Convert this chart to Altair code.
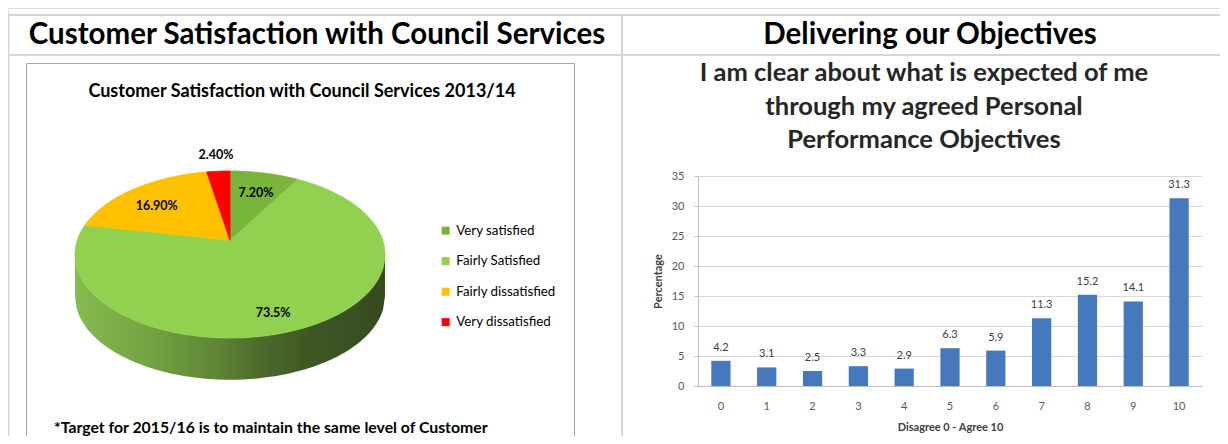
import altair as alt
import numpy as np
import pandas as pd

FONT = "Lato"
W, H = 1212, 428

# ---------------- data ----------------
pie_categories = ["Very satisfied", "Fairly Satisfied", "Fairly dissatisfied", "Very dissatisfied"]
pie_values = [7.2, 73.5, 16.9, 2.4]
pie_labels = ["7.20%", "73.5%", "16.90%", "2.40%"]
pie_colors = ["#79B53A", "#92D050", "#FFC000", "#FF0000"]

bar_categories = ["0", "1", "2", "3", "4", "5", "6", "7", "8", "9", "10"]
bar_values = [4.2, 3.1, 2.5, 3.3, 2.9, 6.3, 5.9, 11.3, 15.2, 14.1, 31.3]
bar_labels = ["4.2", "3.1", "2.5", "3.3", "2.9", "6.3", "5.9", "11.3", "15.2", "14.1", "31.3"]
y_ticks = [0, 5, 10, 15, 20, 25, 30, 35]

header_left = "Customer Satisfaction with Council Services"
header_right = "Delivering our Objectives"
pie_title = "Customer Satisfaction with Council Services 2013/14"
footnote = "*Target for 2015/16 is to maintain the same level of Customer"
bar_title_lines = ["I am clear about what is expected of me",
                   "through my agreed Personal",
                   "Performance Objectives"]
x_title = "Disagree 0 - Agree 10"
y_title = "Percentage"

# ---------------- pie geometry (unit ellipse, scaled by the scales) ----------------
DEPTH = 0.5         # thickness of the 3-D side, in radius units
VERTEX_V = 0.17     # perspective shift of the pie centre
total = sum(pie_values)
poly_rows, label_rows = [], []
cum = 0.0
for cat, val, lab in zip(pie_categories, pie_values, pie_labels):
    a0 = 2 * np.pi * cum / total
    a1 = 2 * np.pi * (cum + val) / total
    ts = np.linspace(a0, a1, max(4, int(val * 1.5) + 2))
    poly_rows.append({"cat": cat, "k": 0, "u": 0.0, "v": VERTEX_V})
    for k, t in enumerate(ts, start=1):
        poly_rows.append({"cat": cat, "k": k, "u": float(np.sin(t)), "v": float(np.cos(t))})
    mid = (a0 + a1) / 2
    f = 1.2 if val < 5 else 0.75
    label_rows.append({"cat": cat, "label": lab,
                       "u": float(f * np.sin(mid)), "v": float(f * np.cos(mid))})
    cum += val
poly_df = pd.DataFrame(poly_rows)
label_df = pd.DataFrame(label_rows)

su = np.linspace(-1, 1, 161)
top = -np.sqrt(np.clip(1 - su ** 2, 0, None))
side_df = pd.DataFrame({"u": su, "top": top, "bottom": top - DEPTH})

pie_x = alt.Scale(domain=[-1, 1], range=[67, 377])
pie_y = alt.Scale(domain=[-1, 1], range=[330, 163])
pie_fill = alt.Scale(domain=pie_categories, range=pie_colors)

side_chart = alt.Chart(side_df).mark_area(
    color=alt.LinearGradient(
        gradient="linear",
        stops=[alt.GradientStop(offset=0, color="#86BB4F"),
               alt.GradientStop(offset=0.25, color="#72A242"),
               alt.GradientStop(offset=0.45, color="#5F8736"),
               alt.GradientStop(offset=0.6, color="#4C6B2B"),
               alt.GradientStop(offset=0.75, color="#3E5825"),
               alt.GradientStop(offset=1, color="#364B20")],
        x1=0, x2=1, y1=0, y2=0),
).encode(
    x=alt.X("u:Q", scale=pie_x, axis=None),
    y=alt.Y("bottom:Q", scale=pie_y, axis=None),
    y2="top:Q",
)

poly_chart = alt.Chart(poly_df).mark_line(interpolate="linear-closed", strokeWidth=0.8).encode(
    x=alt.X("u:Q", scale=pie_x, axis=None),
    y=alt.Y("v:Q", scale=pie_y, axis=None),
    order=alt.Order("k:Q"),
    fill=alt.Fill("cat:N", scale=pie_fill, title=None,
                  legend=alt.Legend(orient="none", legendX=431, legendY=216,
                                    symbolType="square", symbolSize=64,
                                    symbolStrokeWidth=0, rowPadding=16.5,
                                    labelFont=FONT, labelFontSize=13.3,
                                    labelColor="#000000", labelOffset=4)),
    stroke=alt.Stroke("cat:N", scale=pie_fill, legend=None),
)

pie_text = alt.Chart(label_df).mark_text(
    font=FONT, fontSize=12.5, fontWeight="bold", color="#000000"
).encode(
    x=alt.X("u:Q", scale=pie_x, axis=None),
    y=alt.Y("v:Q", scale=pie_y, axis=None),
    text="label:N",
)

pie_layer = alt.layer(side_chart, poly_chart, pie_text)

# ---------------- bar chart ----------------
bar_df = pd.DataFrame({"score": bar_categories, "pct": bar_values, "label": bar_labels})
bx_scale = alt.Scale(domain=bar_categories, range=[690, 1194], paddingInner=0.58, paddingOuter=0.29)
by_scale = alt.Scale(domain=[0, 35], range=[378, 168], nice=False)

x_axis = alt.Axis(orient="bottom", offset=-50, labelAngle=0, ticks=False, tickSize=0,
                  domainColor="#BFBFBF", labelColor="#595959", labelFont=FONT,
                  labelFontSize=11, labelPadding=14, title=x_title, titleFont=FONT,
                  titleFontSize=11, titleFontWeight="bold", titleColor="#404040",
                  titlePadding=10)
y_axis = alt.Axis(orient="left", offset=-690, values=y_ticks, grid=True,
                  gridColor="#D9D9D9", domainColor="#BFBFBF", tickColor="#BFBFBF",
                  tickSize=4, labelColor="#595959", labelFont=FONT, labelFontSize=11,
                  labelPadding=10, title=y_title, titleFont=FONT, titleFontSize=11,
                  titleFontWeight="bold", titleColor="#404040", titlePadding=8)

bars = alt.Chart(bar_df).mark_bar(color="#4678BC").encode(
    x=alt.X("score:N", sort=bar_categories, scale=bx_scale, axis=x_axis),
    y=alt.Y("pct:Q", scale=by_scale, axis=y_axis),
)
bar_text = alt.Chart(bar_df).mark_text(
    font=FONT, fontSize=11, color="#404040", baseline="bottom", dy=-8
).encode(
    x=alt.X("score:N", sort=bar_categories, scale=bx_scale, axis=x_axis),
    y=alt.Y("pct:Q", scale=by_scale, axis=y_axis),
    text="label:N",
)
bar_layer = alt.layer(bars, bar_text)

# ---------------- decorations (table lines, titles) ----------------
one = pd.DataFrame({"_": [0]})


def rule(x, x2, y, y2, color="#D6D6D6", width=2):
    return alt.Chart(one).mark_rule(color=color, strokeWidth=width).encode(
        x=alt.value(x), x2=alt.value(x2), y=alt.value(y), y2=alt.value(y2))


def label(text, x, y, size, weight="bold", align="center", color="#000000", baseline="middle"):
    return alt.Chart(one).mark_text(
        text=text, font=FONT, fontSize=size, fontWeight=weight, align=align,
        baseline=baseline, color=color).encode(x=alt.value(x), y=alt.value(y))


box = alt.Chart(one).mark_rect(fillOpacity=0, stroke="#A6A6A6", strokeWidth=1).encode(
    x=alt.value(18.5), x2=alt.value(566.5), y=alt.value(55.5), y2=alt.value(450))

decor = [
    rule(0, W, 7, 7),
    rule(0, W, 47, 47),
    rule(0.5, 0.5, 7, H),
    rule(614, 614, 7, H),
    box,
    label(header_left, 309, 27, 29.5),
    label(header_right, 922, 27, 29.5),
    label(pie_title, 294, 84, 18),
    label(footnote, 46, 420, 15.8, align="left"),
    alt.Chart(one).mark_text(
        text=bar_title_lines, font=FONT, fontSize=25.5, fontWeight="bold",
        color="#262626", align="center", baseline="top", lineHeight=33.5
    ).encode(x=alt.value(916), y=alt.value(53)),
]

chart = alt.layer(*decor, pie_layer, bar_layer).resolve_scale(
    x="independent", y="independent"
).properties(
    width=W, height=H, padding=0, autosize=alt.AutoSizeParams(type="none")
).configure_view(stroke="transparent").configure(background="white")

chart.save("out.html", embed_options={"renderer": "svg", "actions": False})
